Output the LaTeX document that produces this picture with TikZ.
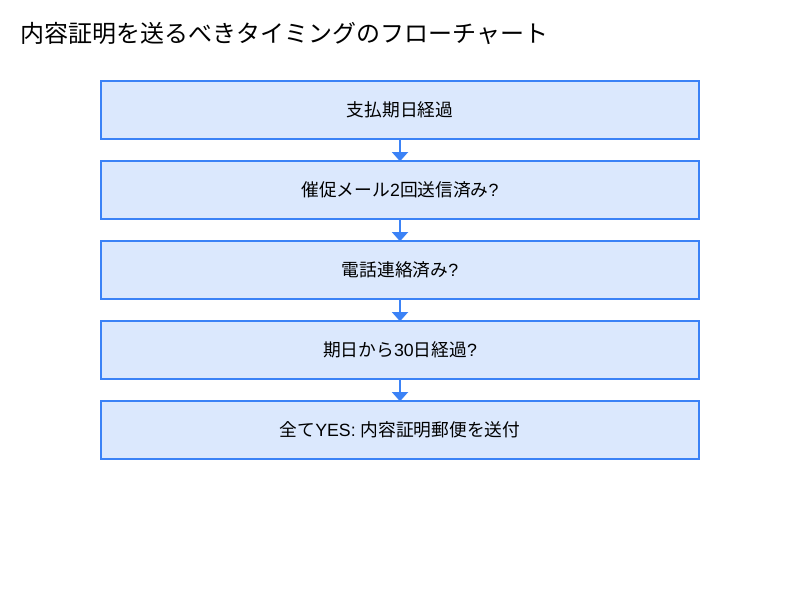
\documentclass[tikz,border=0pt]{standalone}
\usepackage{fontspec}
\setmainfont{Noto Sans CJK JP}
\newfontfamily\latf{Liberation Sans}
\newcommand{\lt}[1]{{\latf #1}}
\usetikzlibrary{arrows.meta}
\definecolor{boxfill}{HTML}{DBE8FD}
\definecolor{boxline}{HTML}{3B82F6}
\tikzset{
  stepbox/.style={draw=boxline, fill=boxfill, line width=1.5pt, minimum width=448.5pt, minimum height=43.5pt, inner sep=0pt, font=\fontsize{13.3pt}{16pt}\selectfont, text=black},
  conn/.style={draw=boxline, line width=1.5pt, -{Triangle[width=12pt,length=7pt]}, shorten >=-1pt},
  ttl/.style={font=\fontsize{18pt}{21pt}\selectfont, anchor=west, inner sep=0pt}
}
\begin{document}
\begin{tikzpicture}[x=0.75pt,y=-0.75pt]
\useasboundingbox (0,0) rectangle (800,600);
\fill[white] (0,0) rectangle (800,600);
\node[ttl] (title) at (20,33) {内容証明を送るべきタイミングのフローチャート};
\node[stepbox] (s1) at (400,110) {支払期日経過};
\node[stepbox] (s2) at (400,190) {催促メール\lt{2}回送信済み\lt{?}};
\node[stepbox] (s3) at (400,270) {電話連絡済み\lt{?}};
\node[stepbox] (s4) at (400,350) {期日から\lt{30}日経過\lt{?}};
\node[stepbox] (s5) at (400,430) {全て\lt{YES: }内容証明郵便を送付};
\draw[conn] (s1.south) -- (s2.north);
\draw[conn] (s2.south) -- (s3.north);
\draw[conn] (s3.south) -- (s4.north);
\draw[conn] (s4.south) -- (s5.north);
\end{tikzpicture}
\end{document}
